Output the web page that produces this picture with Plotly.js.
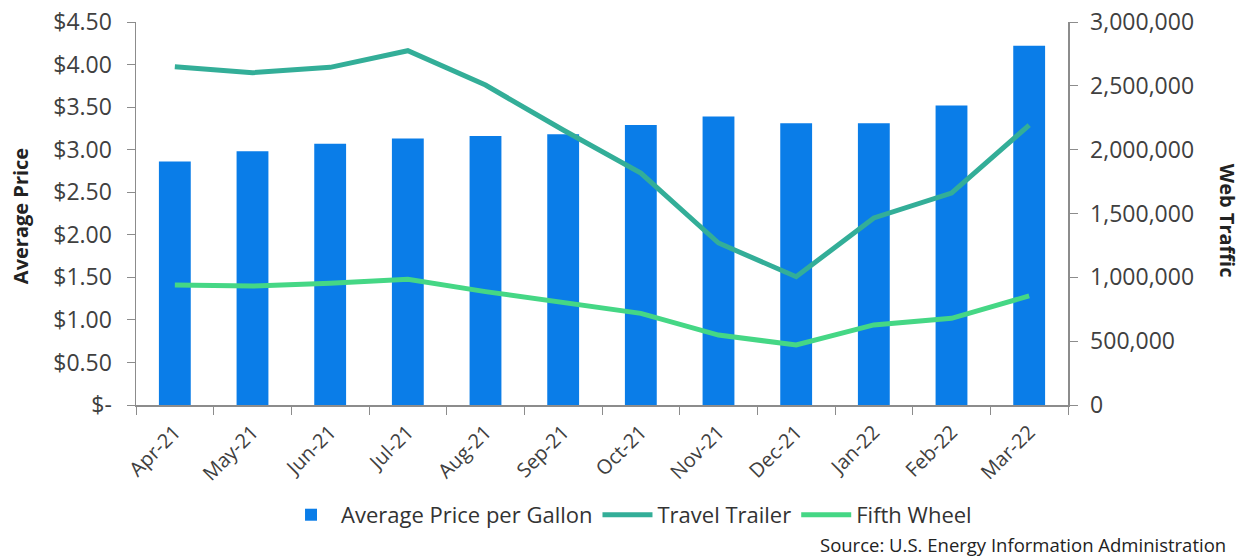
<!DOCTYPE html>
<html>
<head>
<meta charset="utf-8">
<script src="https://cdn.plot.ly/plotly-3.0.1.min.js"></script>
<style>html,body{margin:0;padding:0;background:#fff;}#chart{width:1253px;height:559px;}</style>
</head>
<body>
<div id="chart"></div>
<script>
const months = ["Apr-21","May-21","Jun-21","Jul-21","Aug-21","Sep-21","Oct-21","Nov-21","Dec-21","Jan-22","Feb-22","Mar-22"];
const avgPrice = [2.86, 2.98, 3.07, 3.13, 3.16, 3.18, 3.29, 3.39, 3.31, 3.31, 3.52, 4.22];
const travelTrailer = [2650000, 2603000, 2645000, 2775000, 2506000, 2154000, 1817000, 1269000, 1005000, 1465000, 1660000, 2193000];
const fifthWheel = [940000, 932000, 953000, 985000, 888000, 801000, 718000, 548000, 470000, 627000, 679000, 854000];
const priceTickVals = [0, 0.5, 1, 1.5, 2, 2.5, 3, 3.5, 4, 4.5];
const priceTickText = ["$-", "$0.50", "$1.00", "$1.50", "$2.00", "$2.50", "$3.00", "$3.50", "$4.00", "$4.50"];

const FONT = "Open Sans, Liberation Sans, Arial, sans-serif";
const TXT = "#404040";
const AX = "#8c8c8c";

const data = [
  {type: "bar", name: "Average Price per Gallon", x: months, y: avgPrice, marker: {color: "#0a7de8"}, yaxis: "y"},
  {type: "scatter", mode: "lines", name: "Travel Trailer", x: months, y: travelTrailer, line: {color: "#33ae98", width: 5}, yaxis: "y2"},
  {type: "scatter", mode: "lines", name: "Fifth Wheel", x: months, y: fifthWheel, line: {color: "#45d785", width: 5}, yaxis: "y2"}
];

const layout = {
  width: 1253, height: 559,
  margin: {l: 136, r: 185, t: 22, b: 154},
  paper_bgcolor: "#fff", plot_bgcolor: "#fff",
  font: {family: FONT, color: TXT},
  bargap: 0.59,
  showlegend: true,
  legend: {orientation: "h", x: 0.529, xanchor: "center", y: -0.287, yanchor: "middle", font: {size: 22, color: "#333"}, itemwidth: 50, tracegroupgap: 0},
  xaxis: {
    type: "category", showgrid: false, showline: true, linecolor: AX, linewidth: 1.5,
    ticks: "outside", tickson: "boundaries", ticklen: 8, tickcolor: AX,
    tickangle: -45, tickfont: {size: 20, color: TXT}, zeroline: false, ticklabelstandoff: 6
  },
  yaxis: {
    range: [0, 4.5], tickvals: priceTickVals, ticktext: priceTickText,
    showgrid: false, showline: true, linecolor: AX, linewidth: 1.5,
    ticks: "outside", ticklen: 8, tickcolor: AX, zeroline: false,
    tickfont: {size: 23, color: TXT}, ticklabelstandoff: 10
  },
  yaxis2: {
    overlaying: "y", side: "right", range: [0, 3000000], dtick: 500000, tickformat: ",d",
    showgrid: false, showline: true, linecolor: AX, linewidth: 1.5,
    ticks: "outside", ticklen: 8, tickcolor: AX, zeroline: false,
    tickfont: {size: 23, color: TXT}, ticklabelstandoff: 8
  },
  annotations: [
    {text: "<b>Average Price</b>", xref: "paper", yref: "paper", x: -0.1245, y: 0.493, textangle: -90, showarrow: false, font: {size: 20, color: "#222"}, xanchor: "center", yanchor: "middle"},
    {text: "<b>Web Traffic</b>", xref: "paper", yref: "paper", x: 1.172, y: 0.48, textangle: 90, showarrow: false, font: {size: 20, color: "#222"}, xanchor: "center", yanchor: "middle"},
    {text: "Source: U.S. Energy Information Administration", xref: "paper", yref: "paper", x: 1.1717, xanchor: "right", y: -0.365, yanchor: "middle", showarrow: false, font: {size: 18.5, color: "#222"}}
  ]
};

Plotly.newPlot("chart", data, layout, {displayModeBar: false, staticPlot: true});
</script>
</body>
</html>
